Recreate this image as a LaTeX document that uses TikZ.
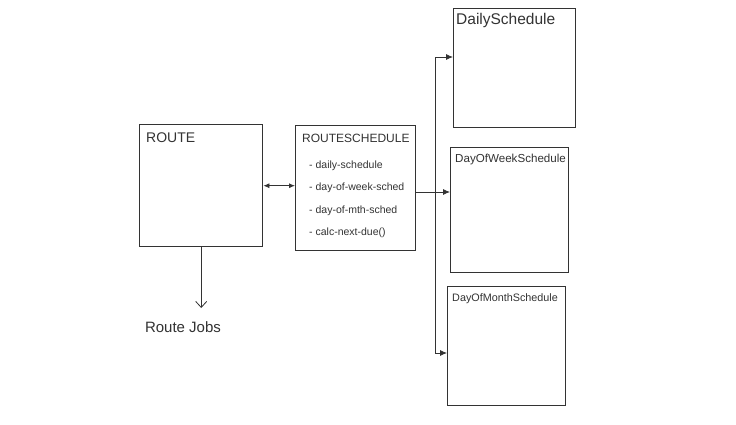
\documentclass[tikz,border=0pt]{standalone}
\usepackage{fontspec}
\setmainfont{Liberation Sans}
\usetikzlibrary{arrows.meta}
\definecolor{ink}{HTML}{333333}
\begin{document}
\begin{tikzpicture}[x=1pt,y=-1pt,
  box/.style={draw=ink, line width=1.4pt, rectangle, inner sep=0pt, anchor=north west},
  lbl/.style={anchor=north west, inner sep=0pt, text=ink},
  item/.style={anchor=west, inner sep=0pt, text=ink, font=\fontsize{10.5}{11}\selectfont},
  line/.style={draw=ink, line width=0.8pt},
  tri/.style={line, -{Latex[length=7pt,width=6pt]}},
  dbl/.style={line, {Latex[length=6pt,width=5pt]}-{Latex[length=6pt,width=5pt]}},
  open/.style={line, -{Straight Barb[length=6pt,width=11pt]}}]
\useasboundingbox[fill=white] (0,0) rectangle (736,424);
% boxes
\node[box, minimum width=123pt, minimum height=122pt] (route) at (139,124) {};
\node[box, minimum width=120pt, minimum height=125pt] (rs) at (295,125) {};
\node[box, minimum width=122pt, minimum height=119pt] (ds) at (453,8) {};
\node[box, minimum width=118pt, minimum height=125pt] (dw) at (450,147) {};
\node[box, minimum width=118pt, minimum height=119pt] (dm) at (447,286) {};
% labels
\node[lbl, font=\fontsize{14}{15}\selectfont] (routet) at (146,133) {ROUTE};
\node[lbl, font=\fontsize{12}{13}\selectfont] (rst) at (302,134) {ROUTESCHEDULE};
\node[item] (i1) at (309,166) {- daily-schedule};
\node[item] (i2) at (309,188) {- day-of-week-sched};
\node[item] (i3) at (309,211) {- day-of-mth-sched};
\node[item] (i4) at (309,233) {- calc-next-due()};
\node[lbl, font=\fontsize{15.5}{16}\selectfont] (dst) at (456,13) {DailySchedule};
\node[lbl, font=\fontsize{11.6}{12}\selectfont] (dwt) at (455,154) {DayOfWeekSchedule};
\node[lbl, font=\fontsize{10.8}{11}\selectfont] (dmt) at (452,293) {DayOfMonthSchedule};
\node[text=ink, font=\fontsize{15}{16}\selectfont, inner sep=0pt] (jobs) at (183,327) {Route Jobs};
% connectors
\draw[dbl] (route.east) -- (rs.west |- route.east);
\coordinate (jm) at (435,192);
\coordinate (jt) at (435,57);
\coordinate (jb) at (435,353);
\draw[line] (rs.east |- jm) -- (jm);
\draw[line] (jt) -- (jb);
\draw[tri] (jt) -- (jt -| ds.west);
\draw[tri] (jm) -- (jm -| dw.west);
\draw[tri] (jb) -- (jb -| dm.west);
\coordinate (jobtip) at (route.south |- 0,308);
\draw[open] (route.south) -- (jobtip);
\end{tikzpicture}
\end{document}
